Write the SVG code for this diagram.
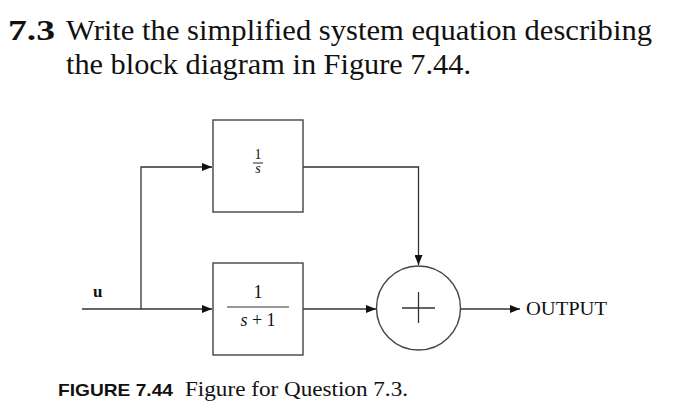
<svg xmlns="http://www.w3.org/2000/svg" width="683" height="414" viewBox="0 0 683 414">
<defs>
<style>
.ln{fill:none;stroke:#333;stroke-width:1.3}
.bx{fill:#fff;stroke:#444;stroke-width:1.4}
.sf{font-family:"Liberation Serif","Times New Roman",serif;fill:#111}
.ss{font-family:"Liberation Sans",Arial,sans-serif;fill:#111}
</style>
<marker id="ah" viewBox="0 0 10 8" refX="10" refY="4" markerWidth="10" markerHeight="8" markerUnits="userSpaceOnUse" orient="auto">
<path d="M0,0 L10,4 L0,8 Z" fill="#111"/>
</marker>
</defs>
<rect width="683" height="414" fill="#fff"/>
<g id="title">
<text class="sf" x="8" y="40" font-size="29" font-weight="bold" textLength="47" lengthAdjust="spacingAndGlyphs">7.3</text>
<text class="sf" x="66" y="40" font-size="29" textLength="586" lengthAdjust="spacingAndGlyphs">Write the simplified system equation describing</text>
<text class="sf" x="66" y="74" font-size="29" textLength="405" lengthAdjust="spacingAndGlyphs">the block diagram in Figure 7.44.</text>
</g>
<g id="connectors">
<path class="ln" d="M141,309 V167 H212" marker-end="url(#ah)"/>
<path class="ln" d="M82,309 H212" marker-end="url(#ah)"/>
<path class="ln" d="M303,167 H418.5 V265" marker-end="url(#ah)"/>
<path class="ln" d="M303,309 H376" marker-end="url(#ah)"/>
<path class="ln" d="M460,309 H520" marker-end="url(#ah)"/>
</g>
<g id="input">
<text class="sf" x="93" y="297" font-size="17" font-weight="bold">u</text>
</g>
<g id="block1">
<rect class="bx" x="213" y="120" width="90" height="92"/>
<text class="sf" x="258" y="159" font-size="14" text-anchor="middle">1</text>
<line x1="253" y1="163" x2="263" y2="163" stroke="#222" stroke-width="1"/>
<text class="sf" x="258" y="173" font-size="14" font-style="italic" text-anchor="middle">s</text>
</g>
<g id="block2">
<rect class="bx" x="213" y="263" width="90" height="92"/>
<text class="sf" x="258" y="298" font-size="18" text-anchor="middle">1</text>
<line x1="227" y1="307" x2="289" y2="307" stroke="#333" stroke-width="1.2"/>
<text class="sf" x="258" y="326" font-size="18" text-anchor="middle"><tspan font-style="italic">s</tspan> + 1</text>
</g>
<g id="sum">
<circle cx="418.5" cy="308" r="42" fill="#fff" stroke="#444" stroke-width="1.4"/>
<path class="ln" d="M402,308 H435 M418.5,292 V323"/>
</g>
<g id="output">
<text class="sf" x="526" y="315" font-size="18" textLength="81" lengthAdjust="spacingAndGlyphs">OUTPUT</text>
</g>
<g id="caption">
<text class="ss" x="58" y="396" font-size="17" font-weight="bold" textLength="115" lengthAdjust="spacingAndGlyphs">FIGURE 7.44</text>
<text class="sf" x="185" y="396" font-size="20" textLength="223" lengthAdjust="spacingAndGlyphs">Figure for Question 7.3.</text>
</g>
</svg>
